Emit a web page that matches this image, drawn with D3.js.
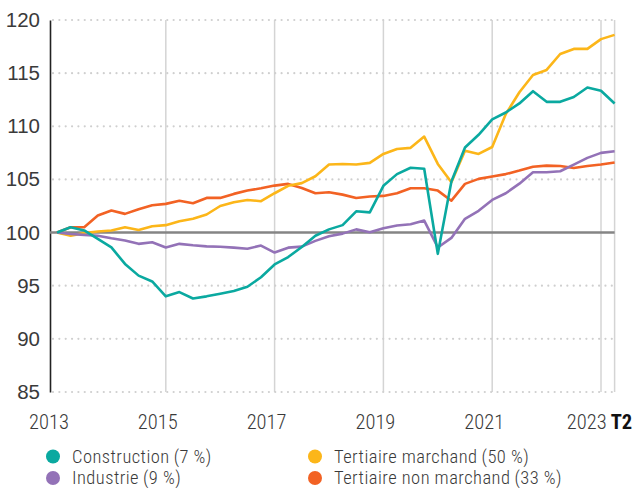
<!DOCTYPE html>
<html>
<head>
<meta charset="utf-8">
<script src="https://cdn.jsdelivr.net/npm/d3@7"></script>
<style>
  body { margin: 0; background: #fff; }
  svg { display: block; font-family: Roboto, sans-serif; font-stretch: condensed; font-weight: 300; }
</style>
</head>
<body>
<svg width="632" height="488"></svg>
<script>
// trimestres 2013 T1 -> 2023 T2, base 100 en 2013 T1
var yearLabels = ['2013', '2015', '2017', '2019', '2021', '2023']
var yearIndex = [0, 8, 16, 24, 32, 40]
var yTicks = [85, 90, 95, 100, 105, 110, 115, 120]

var construction = [100, 100.5, 100.2, 99.4, 98.6, 97.05, 95.95, 95.4, 94.0, 94.4, 93.8, 94.0, 94.25, 94.5, 94.9, 95.8, 97.0, 97.7, 98.65, 99.7, 100.3, 100.7, 102.0, 101.9, 104.4, 105.5, 106.1, 106.0, 98.0, 104.8, 108.0, 109.2, 110.65, 111.3, 112.15, 113.3, 112.3, 112.3, 112.75, 113.65, 113.35, 112.15]
var industrie = [100, 99.87, 99.78, 99.7, 99.46, 99.25, 98.94, 99.09, 98.6, 98.94, 98.8, 98.7, 98.66, 98.58, 98.48, 98.78, 98.12, 98.58, 98.68, 99.22, 99.65, 99.9, 100.3, 100.03, 100.4, 100.66, 100.78, 101.13, 98.6, 99.5, 101.3, 102.05, 103.07, 103.7, 104.6, 105.67, 105.67, 105.77, 106.4, 107.03, 107.5, 107.65]
var marchand = [100, 99.7, 99.95, 100.1, 100.2, 100.5, 100.25, 100.6, 100.7, 101.06, 101.3, 101.7, 102.5, 102.85, 103.07, 102.95, 103.7, 104.4, 104.65, 105.3, 106.4, 106.45, 106.4, 106.56, 107.4, 107.87, 107.97, 109.03, 106.46, 104.73, 107.7, 107.4, 108.05, 111.15, 113.2, 114.83, 115.3, 116.8, 117.28, 117.28, 118.2, 118.6]
var nonMarchand = [100, 100.5, 100.5, 101.6, 102.07, 101.76, 102.2, 102.57, 102.7, 103.0, 102.76, 103.26, 103.26, 103.64, 103.95, 104.17, 104.42, 104.58, 104.2, 103.7, 103.8, 103.57, 103.26, 103.39, 103.45, 103.7, 104.17, 104.17, 103.95, 103.0, 104.58, 105.05, 105.27, 105.5, 105.83, 106.2, 106.3, 106.27, 106.08, 106.27, 106.4, 106.6]

var series = [
  {name: 'Tertiaire non marchand', share: '33 %', color: '#f26224', values: nonMarchand},
  {name: 'Tertiaire marchand', share: '50 %', color: '#fcb619', values: marchand},
  {name: 'Industrie', share: '9 %', color: '#9372b7', values: industrie},
  {name: 'Construction', share: '7 %', color: '#0aa9a0', values: construction}
]
// colonne 1 : construction, industrie ; colonne 2 : marchand, non marchand
var legendOrder = [3, 2, 1, 0]

var svg = d3.select('svg')
var lastIndex = construction.length - 1

var x = d3.scaleLinear().domain([0, lastIndex]).range([57, 614.6])
var y = d3.scaleLinear().domain([85, 120]).range([392, 20])

// vertical grid
svg.append('g').selectAll('line')
  .data(yearIndex.slice(1).concat([lastIndex]))
  .join('line')
  .attr('x1', d => x(d)).attr('x2', d => x(d))
  .attr('y1', y(120)).attr('y2', y(85))
  .attr('stroke', '#d4d4d4')
  .attr('stroke-width', 1.5)

// dotted horizontal grid
svg.append('g').selectAll('line')
  .data(yTicks.filter(d => d !== 100))
  .join('line')
  .attr('x1', 53).attr('x2', 614)
  .attr('y1', d => y(d)).attr('y2', d => y(d))
  .attr('stroke', '#cfcfcf')
  .attr('stroke-width', 2.2)
  .attr('stroke-linecap', 'round')
  .attr('stroke-dasharray', '0,6.35')

// y axis
var yAxis = svg.append('g')
  .attr('transform', 'translate(50,0)')
  .call(d3.axisLeft(y).tickValues(yTicks).tickSize(0).tickPadding(10))
yAxis.select('.domain').attr('stroke', '#222').attr('stroke-width', 1.6)
yAxis.selectAll('text')
  .attr('font-size', 20.5)
  .attr('fill', '#3a3a3a')
  .attr('font-family', null)

// base 100
svg.append('line')
  .attr('x1', 50).attr('x2', 614.6)
  .attr('y1', y(100)).attr('y2', y(100))
  .attr('stroke', '#858585')
  .attr('stroke-width', 2.6)

// x labels
svg.append('g').selectAll('text')
  .data(yearIndex)
  .join('text')
  .attr('x', d => x(d) - 8)
  .attr('y', 429)
  .attr('text-anchor', 'middle')
  .attr('font-size', 20.5)
  .attr('fill', '#3a3a3a')
  .each(function (d, i) {
    var t = d3.select(this)
    if (i === yearIndex.length - 1) {
      t.attr('x', x(d) - 1.5)
      t.append('tspan').text(yearLabels[i] + '\u2009')
      t.append('tspan').attr('font-weight', 'bold').attr('fill', '#111').text('T2')
    } else {
      t.text(yearLabels[i])
    }
  })

// lines
var line = d3.line()
  .x((d, i) => x(i))
  .y(d => y(d))

svg.append('g').selectAll('path')
  .data(series)
  .join('path')
  .attr('d', d => line(d.values))
  .attr('fill', 'none')
  .attr('stroke', d => d.color)
  .attr('stroke-width', 2.6)
  .attr('stroke-linejoin', 'round')

// legend
var legend = svg.append('g')
legendOrder.forEach(function (k, i) {
  var s = series[k]
  var lx = i < 2 ? 53 : 315
  var ly = i % 2 === 0 ? 456.5 : 478
  var g = legend.append('g').attr('transform', 'translate(' + lx + ',' + ly + ')')
  g.append('circle').attr('r', 7).attr('fill', s.color)
  g.append('text')
    .attr('x', 19)
    .attr('y', 6)
    .attr('font-size', 18.5)
    .attr('letter-spacing', 0.45)
    .attr('fill', '#3a3a3a')
    .text(s.name + '\u2009(' + s.share + ')')
})
</script>
</body>
</html>
